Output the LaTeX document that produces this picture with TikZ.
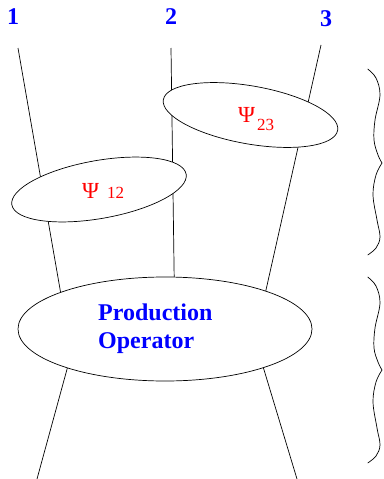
\documentclass[tikz,border=0pt]{standalone}
\usepackage{fontspec}
\setmainfont{Liberation Serif}
\usetikzlibrary{shapes.geometric}
\pgfdeclarelayer{background}
\pgfsetlayers{background,main}
\definecolor{lblblue}{RGB}{0,0,255}
\definecolor{psired}{RGB}{255,0,0}
\tikzset{
  blob/.style={ellipse, draw, fill=white, line width=0.7pt, inner sep=0pt},
  wire/.style={line width=0.7pt},
  brace/.style={line width=0.7pt},
  num/.style={anchor=base west, inner sep=0pt, text=lblblue, font=\fontsize{24}{28}\selectfont\bfseries},
  psi/.style={anchor=base west, inner sep=0pt, text=psired, font=\fontsize{23}{26}\selectfont},
  psisub/.style={anchor=base west, inner sep=0pt, text=psired, font=\fontsize{17}{20}\selectfont},
}
\begin{document}
\begin{tikzpicture}[x=1pt,y=-1pt]
\useasboundingbox (0,0) rectangle (383,479);
% ellipses
\node[blob, minimum width=177pt, minimum height=58pt, rotate=-10] (psiB) at (250.5,115) {};
\node[blob, minimum width=177pt, minimum height=58pt, rotate=10] (psiA) at (99,189.5) {};
\node[blob, minimum width=294pt, minimum height=104pt] (prod) at (165,329) {};
% labels
\node[num] (n1) at (7,24) {1};
\node[num] (n2) at (165,24) {2};
\node[num] (n3) at (320,27) {3};
\node[psi] (psiBl) at (238,122) {Ψ};
\node[psisub] (psiBs) at (257,130) {23};
\node[psi] (psiAl) at (82,198) {Ψ};
\node[psisub] (psiAs) at (107,198) {12};
\node[anchor=base west, inner sep=0pt, text=lblblue, font=\fontsize{24}{28}\selectfont\bfseries, align=left] (ptxt) at (98,348) {Production\\Operator};
% wires behind
\coordinate (t1) at (18,48);
\coordinate (e1) at (65.4,320);
\coordinate (t2) at (171,48);
\coordinate (e2) at (174.5,300);
\coordinate (t3) at (321,45);
\coordinate (e3) at (261.5,310);
\coordinate (s1) at (75,340);
\coordinate (f1) at (37,479);
\coordinate (s2) at (255,340);
\coordinate (f2) at (297,479);
\begin{pgfonlayer}{background}
\draw[wire] (t1) -- (e1);
\draw[wire] (t2) -- (e2);
\draw[wire] (t3) -- (e3);
\draw[wire] (s1) -- (f1);
\draw[wire] (s2) -- (f2);
\end{pgfonlayer}
% braces
\draw[brace] plot[smooth, tension=0.6] coordinates {(367.7,69) (376,78) (380,95) (375,120) (374,140) (378,155) (382,163)};
\draw[brace] plot[smooth, tension=0.6] coordinates {(382,163) (376,175) (373,195) (377,220) (380,237) (376,248) (367.7,255)};
\draw[brace] plot[smooth, tension=0.6] coordinates {(367.7,277) (376,286) (380,303) (375,328) (374,348) (378,362) (382,370)};
\draw[brace] plot[smooth, tension=0.6] coordinates {(382,370) (376,382) (373,402) (377,428) (380,445) (376,456) (367.7,463)};
\end{tikzpicture}
\end{document}
